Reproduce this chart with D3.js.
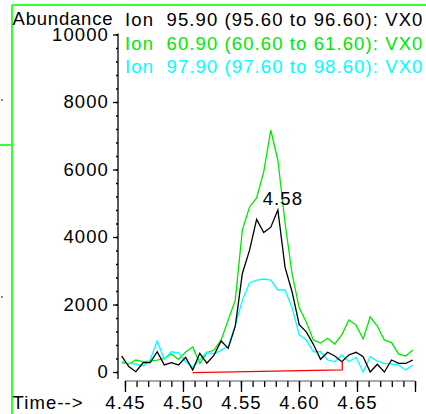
<!DOCTYPE html>
<html>
<head>
<meta charset="utf-8">
<script src="https://cdn.jsdelivr.net/npm/d3@7"></script>
<style>
  body { margin: 0; background: #fff; }
  svg text { font-family: "Liberation Sans", Arial, sans-serif; font-size: 18.5px; letter-spacing: 1.1px; }
</style>
</head>
<body>
<div id="chart"></div>
<script>
/* DATA */
const times = [4.4472, 4.4533, 4.4594, 4.4656, 4.4717, 4.4778, 4.4839, 4.4900, 4.4962, 4.5023,
  4.5084, 4.5145, 4.5206, 4.5268, 4.5329, 4.5390, 4.5451, 4.5512, 4.5574, 4.5635,
  4.5696, 4.5757, 4.5818, 4.5880, 4.5941, 4.6002, 4.6063, 4.6124, 4.6186, 4.6247,
  4.6308, 4.6369, 4.6430, 4.6492, 4.6553, 4.6614, 4.6675, 4.6736, 4.6798, 4.6859,
  4.6920, 4.6981];
const ion96 = [470, 160, 10, 275, 275, 600, 210, 275, 210, 435,
  60, 555, 260, 500, 920, 700, 1360, 2920, 3610, 4520,
  4130, 4290, 4800, 3100, 2370, 1400, 1190, 820, 376, 584,
  474, 305, 504, 584, 453, 0, 228, 0, 356, 258,
  258, 356];
const ion61 = [305, 237, 355, 305, 325, 355, 400, 533, 376, 590,
  740, 258, 572, 650, 950, 1540, 2130, 4210, 4890, 5155,
  5930, 7170, 6280, 4415, 2900, 1900, 1480, 950, 860, 1000,
  830, 1100, 1540, 1390, 980, 1630, 1360, 950, 870, 530,
  475, 650];
const ion98 = [258, 258, 237, 178, 355, 920, 385, 600, 570, 305,
  140, 355, 590, 533, 650, 755, 1390, 2130, 2640, 2725,
  2755, 2725, 2430, 2430, 1900, 1100, 950, 600, 600, 355,
  305, 504, 305, 435, 0, 453, 325, 258, 237, 207,
  60, 207];
const baseTimes = [4.5084, 4.6373, 4.6373];
const baseValues = [-20, 60, 330];
const yMajor = [0, 2000, 4000, 6000, 8000, 10000];
const xMajor = [4.45, 4.50, 4.55, 4.60, 4.65, 4.70];
const xLabels = ["4.45", "4.50", "4.55", "4.60", "4.65", ""];
const legend = [
  "Ion  95.90 (95.60 to 96.60): VX0",
  "Ion  60.90 (60.60 to 61.60): VX0",
  "Ion  97.90 (97.60 to 98.60): VX0"
];
const peakLabel = "4.58";

/* LAYOUT */
const W = 426, H = 414;
const colors = ["#000000", "#00e800", "#00ffff"];

const svg = d3.select("#chart").append("svg")
  .attr("width", W).attr("height", H);

const x = d3.scaleLinear().domain([4.444, 4.70]).range([118, 415]);
const y = d3.scaleLinear().domain([0, 10000]).range([372, 34.5]);

// frame lines (window edges)
svg.append("line").attr("x1", 12).attr("x2", W).attr("y1", 5).attr("y2", 5)
  .attr("stroke", "#33ff33").attr("stroke-width", 2);
svg.append("line").attr("x1", 12).attr("x2", 12).attr("y1", 5).attr("y2", H)
  .attr("stroke", "#33ff33").attr("stroke-width", 2);
svg.append("line").attr("x1", 0).attr("x2", 12).attr("y1", 145).attr("y2", 145)
  .attr("stroke", "#33ff33").attr("stroke-width", 2);
[99, 296].forEach((yy) => {
  svg.append("rect").attr("x", 1).attr("y", yy).attr("width", 2).attr("height", 2).attr("fill", "#888");
});

// y axis: major + minor
svg.append("g")
  .attr("transform", "translate(118,0)")
  .call(d3.axisLeft(y).tickValues(d3.range(0, 10001, 400)).tickSize(2).tickFormat(""))
  .call((g) => g.select(".domain").remove());
const yAxis = svg.append("g")
  .attr("transform", "translate(118,0)")
  .call(d3.axisLeft(y).tickValues(yMajor).tickSize(5).tickPadding(4).tickFormat(d3.format("d")));
yAxis.select(".domain").remove();
yAxis.selectAll("text").attr("font-size", null).attr("font-family", null).attr("fill", "#000");
svg.append("line").attr("x1", 118).attr("x2", 118).attr("y1", y(10000) - 1).attr("y2", 379)
  .attr("stroke", "#000").attr("stroke-width", 1.3);

// x axis: minor + major
const xAxisY = 381;
svg.append("g")
  .attr("transform", `translate(0,${xAxisY})`)
  .call(d3.axisBottom(x).tickValues(d3.range(4.45, 4.705, 0.01)).tickSize(6).tickFormat(""))
  .call((g) => g.select(".domain").remove());
const xAxis = svg.append("g")
  .attr("transform", `translate(0,${xAxisY})`)
  .call(d3.axisBottom(x).tickValues(xMajor).tickSize(11).tickFormat((d, i) => xLabels[i]));
xAxis.select(".domain").attr("d", `M${x(4.45)},0H${x(4.70)}`).attr("stroke", "#555");
xAxis.selectAll("text").attr("font-size", null).attr("font-family", null)
  .attr("fill", "#000").attr("y", 28).attr("dy", null);
svg.selectAll(".tick line").attr("stroke-width", 1.3);

// axis captions
svg.append("text").attr("x", 12.5).attr("y", 25).style("letter-spacing", "0.8px").text("Abundance");
svg.append("text").attr("x", 12.5).attr("y", 409).text("Time-->");

// legend
legend.forEach((t, i) => {
  svg.append("text").attr("x", 125).attr("y", 26 + i * 23.5)
    .attr("fill", colors[i]).attr("xml:space", "preserve").style("white-space", "pre").text(t);
});

// traces
const line = d3.line().x((d) => x(d[0])).y((d) => y(d[1]));
[ion61, ion98, ion96].forEach((vals) => {
  const idx = [ion96, ion61, ion98].indexOf(vals);
  svg.append("path")
    .datum(times.map((t, i) => [t, vals[i]]))
    .attr("fill", "none").attr("stroke", colors[idx]).attr("stroke-width", 1.3)
    .attr("d", line);
});

// integration baseline
svg.append("path")
  .datum(baseTimes.map((t, i) => [t, baseValues[i]]))
  .attr("fill", "none").attr("stroke", "#ff0000").attr("stroke-width", 1.3)
  .attr("d", line);

// peak label at apex of black trace
const apex = d3.maxIndex(ion96);
svg.append("text")
  .attr("x", x(times[apex]) + 5).attr("y", y(ion96[apex]) - 5)
  .attr("text-anchor", "middle").text(peakLabel);
</script>
</body>
</html>
